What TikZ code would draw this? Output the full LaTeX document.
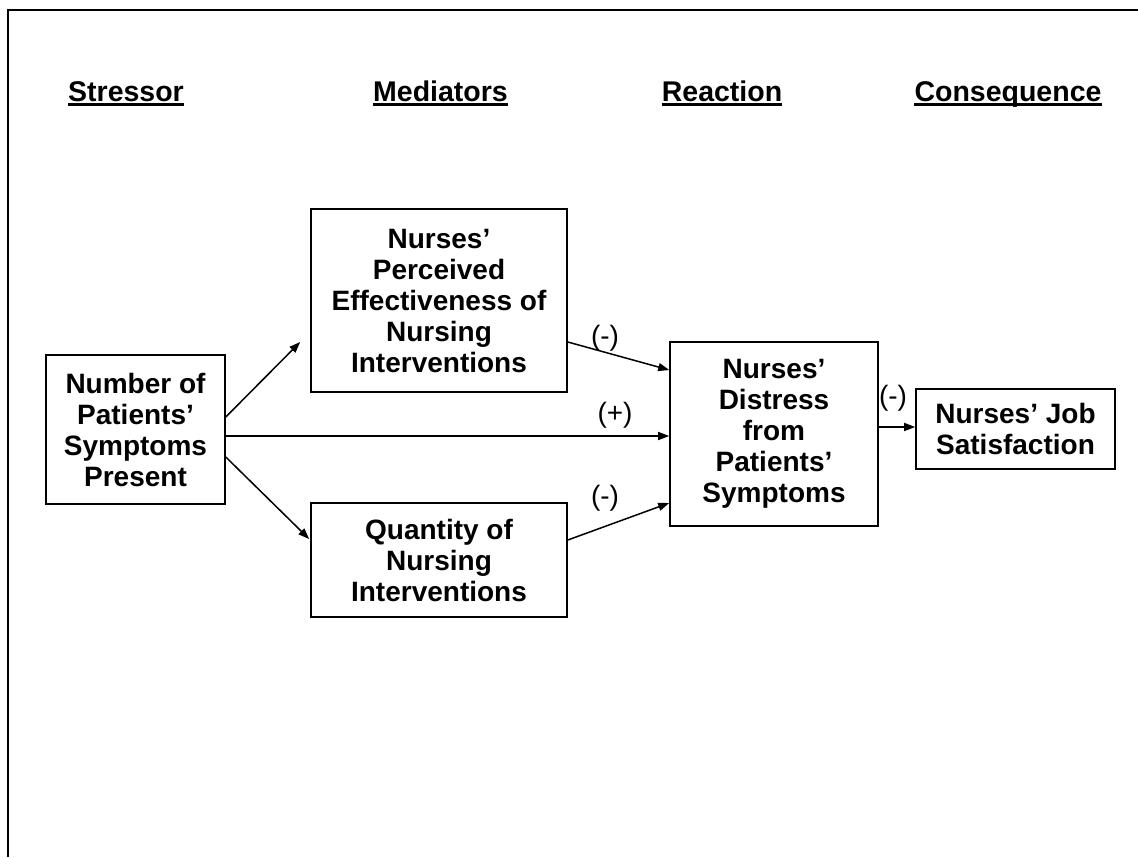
\documentclass[tikz,border=0pt]{standalone}
\usepackage{fontspec}
\setmainfont{Liberation Sans}
\usetikzlibrary{arrows.meta,calc}
\begin{document}
\begin{tikzpicture}[x=1pt,y=-1pt,
  box/.style={draw,line width=1.6pt,align=center,inner sep=0pt,
    font=\fontsize{28}{31}\selectfont\bfseries},
  header/.style={inner sep=0pt,anchor=base,font=\fontsize{28.5}{32}\selectfont\bfseries},
  uline/.style={line width=2.6pt},
  conn/.style={line width=1.5pt,-{Triangle[length=11pt,width=8pt]}},
  sign/.style={inner sep=0pt,font=\fontsize{28}{31}\selectfont}]
\useasboundingbox (0,0) rectangle (1138,857);
% frame
\draw[line width=2pt] (8,857) -- (8,10) -- (1138,10);
% headers
\node[header] (h1) at (126,101) {Stressor};
\node[header] (h2) at (440.5,101) {Mediators};
\node[header] (h3) at (722,101) {Reaction};
\node[header] (h4) at (1008,101) {Consequence};
\foreach \h in {h1,h2,h3,h4}
  \draw[uline] ([yshift=-3.5pt]\h.base west) -- ([yshift=-3.5pt]\h.base east);
% boxes
\node[box,minimum width=179pt,minimum height=149pt] (s) at (135.5,429.5)
  {Number of\\Patients’\\Symptoms\\Present};
\node[box,minimum width=256pt,minimum height=183pt] (m1) at (439,300.5)
  {Nurses’\\Perceived\\Effectiveness of\\Nursing\\Interventions};
\node[box,minimum width=256pt,minimum height=114pt] (m2) at (439,560)
  {Quantity of\\Nursing\\Interventions};
\node[box,minimum width=208pt,minimum height=184pt] (r) at (774,434)
  {Nurses’\\Distress\\from\\Patients’\\Symptoms};
\node[box,minimum width=199pt,minimum height=80pt] (c) at (1015.5,429)
  {Nurses’ Job\\Satisfaction};
% connectors
\draw[conn] ([yshift=12.5pt]s.east) -- ([xshift=-10pt,yshift=-41.5pt]m1.west);
\draw[conn] ([yshift=-27.5pt]s.east) -- ([xshift=-1pt,yshift=21pt]m2.west);
\draw[conn] ([yshift=-6.5pt]s.east) -- ([yshift=-6.5pt]s.east -| r.west);
\draw[conn] ([yshift=-41.5pt]m1.east) -- ([yshift=64pt]r.west);
\draw[conn] ([yshift=20pt]m2.east) -- ([yshift=-69pt]r.west);
\draw[conn] ([yshift=7pt]r.east) -- ([yshift=7pt]r.east -| c.west);
% signs
\node[sign] (l1) at (605,338) {(-)};
\node[sign] (l2) at (615,415) {(+)};
\node[sign] (l3) at (605,498) {(-)};
\node[sign] (l4) at (893,398) {(-)};
\end{tikzpicture}
\end{document}
